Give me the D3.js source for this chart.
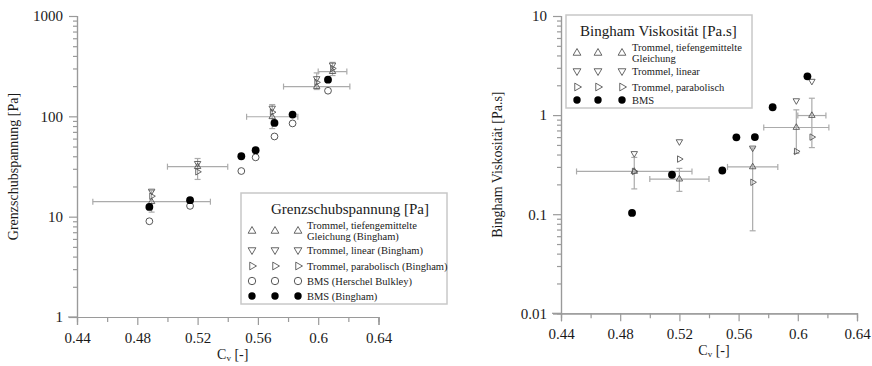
<!DOCTYPE html>
<html>
<head>
<meta charset="utf-8">
<script src="https://cdn.jsdelivr.net/npm/d3@7"></script>
<style>
  body { margin: 0; background: #fff; }
  svg { display: block; font-family: "Liberation Serif", "Times New Roman", serif; }
</style>
</head>
<body>
<div id="chart"></div>
<script>
// x axis (solids concentration)
const CV_MAJOR = [0.44, 0.48, 0.52, 0.56, 0.6, 0.64];
const CV_MINOR = [0.46, 0.50, 0.54, 0.58, 0.62];

// drum measurements (Trommel), one entry per group
const drumCv = [0.4895, 0.52, 0.5695, 0.599, 0.6095];
const drumCvErr = [0.039, 0.02, 0.017, 0.022, 0.0095];

// yield stress [Pa]
const tauUp = [14.1, 31.5, 99, 198, 279];
const tauDown = [18, 34, 121, 238, 325];
const tauRight = [16, 28, 110, 218, 300];
const tauErrLo = [11.1, 23.5, 75.5, 185, 255];
const tauErrHi = [18.2, 38, 131, 271, 345];

// Bingham viscosity [Pa.s]
const muUp = [0.27, 0.226, 0.30, 0.75, 0.99];
const muDown = [0.41, 0.54, 0.466, 1.4, 2.2];
const muRight = [0.27, 0.36, 0.21, 0.43, 0.6];
const muErrLo = [0.18, 0.17, 0.068, 0.41, 0.47];
const muErrHi = [0.374, 0.29, 0.466, 1.13, 1.48];

// BMS measurements
const bmsCv = [0.488, 0.515, 0.549, 0.5585, 0.571, 0.583, 0.6065];
const bmsTauBingham = [12.5, 14.6, 40, 46, 86, 104, 232];
const bmsTauHB = [9.0, 12.8, 28.5, 39, 63, 85, 180];
const bmsMu = [0.103, 0.25, 0.276, 0.596, 0.6, 1.2, 2.46];

const W = 872, H = 366;
const AXIS_COL = "#9a9a9a";
const BAR_COL = "#ababab";
const TRI_COL = "#555";
const SERIF = "'Liberation Serif', 'Times New Roman', serif";

const svg = d3.select("#chart").append("svg")
    .attr("width", W)
    .attr("height", H);

function logMinors(lo, hi) {
    const out = [];
    for (let dec = lo; dec < hi; dec *= 10)
        for (let k = 2; k <= 9; k++) out.push(+(dec * k).toPrecision(3));
    return out;
}

function drawTri(g, x, y, dir, size) {
    const rot = { up: 0, down: 180, right: 90 }[dir];
    g.append("path")
        .attr("d", d3.symbol(d3.symbolTriangle, size)())
        .attr("transform", `translate(${x},${y}) rotate(${rot})`)
        .attr("fill", "none")
        .attr("stroke", TRI_COL)
        .attr("stroke-width", 0.9);
}

function panel(opts) {
    const x = d3.scaleLinear().domain([0.44, 0.64]).range([opts.x0, opts.x1]);
    const y = d3.scaleLog().domain(opts.yDomain).range([opts.yBot, opts.yTop]);
    const g = svg.append("g");

    // axes
    const xAx = g.append("g").attr("transform", `translate(0,${opts.yBot})`);
    xAx.call(d3.axisBottom(x).tickValues(CV_MAJOR).tickSize(8).tickPadding(7)
        .tickFormat(d => String(d)));
    const xMin = g.append("g").attr("transform", `translate(0,${opts.yBot})`);
    xMin.call(d3.axisBottom(x).tickValues(CV_MINOR).tickSize(5).tickFormat(""));

    const yAx = g.append("g").attr("transform", `translate(${opts.x0},0)`);
    yAx.call(d3.axisLeft(y).tickValues(opts.yMajor).tickSize(8).tickPadding(6)
        .tickFormat(d => String(d)));
    const yMin = g.append("g").attr("transform", `translate(${opts.x0},0)`);
    yMin.call(d3.axisLeft(y).tickValues(logMinors(opts.yDomain[0], opts.yDomain[1]))
        .tickSize(4).tickFormat(""));

    [xAx, xMin, yAx, yMin].forEach(a => a.attr("font-family", SERIF).attr("font-size", 15));
    g.selectAll(".domain").attr("stroke", AXIS_COL).attr("stroke-width", 1.2);
    g.selectAll(".tick line").attr("stroke", AXIS_COL).attr("stroke-width", 1.2);
    g.selectAll(".tick text").attr("fill", "#1a1a1a");
    // x axis line starts a little left of the y axis
    g.append("line")
        .attr("x1", opts.x0 - 9).attr("x2", opts.x0)
        .attr("y1", opts.yBot).attr("y2", opts.yBot)
        .attr("stroke", AXIS_COL).attr("stroke-width", 1.2);

    // axis titles
    const xt = g.append("text")
        .attr("x", (opts.x0 + opts.x1) / 2 + 5)
        .attr("y", opts.yBot + 42)
        .attr("text-anchor", "middle")
        .style("font-size", "14px")
        .attr("fill", "#1a1a1a");
    xt.append("tspan").text("C");
    xt.append("tspan").attr("dy", 2).style("font-size", "9px").text("v");
    xt.append("tspan").attr("dy", -2).text(" [-]");

    g.append("text")
        .attr("transform", `translate(${opts.yTitleX},${(opts.yTop + opts.yBot) / 2}) rotate(-90)`)
        .attr("text-anchor", "middle")
        .style("font-size", "14px")
        .attr("fill", "#1a1a1a")
        .text(opts.yTitle);

    // drum error bars
    const bars = g.append("g").attr("stroke", BAR_COL).attr("stroke-width", 1.2);
    const cap = 3;
    drumCv.forEach((cv, i) => {
        const cx = x(cv), cy = y(opts.up[i]);
        const xl = x(cv - drumCvErr[i]), xr = x(cv + drumCvErr[i]);
        const yt = y(opts.errHi[i]), yb = y(opts.errLo[i]);
        bars.append("line").attr("x1", xl).attr("x2", xr).attr("y1", cy).attr("y2", cy);
        bars.append("line").attr("x1", xl).attr("x2", xl).attr("y1", cy - cap).attr("y2", cy + cap);
        bars.append("line").attr("x1", xr).attr("x2", xr).attr("y1", cy - cap).attr("y2", cy + cap);
        bars.append("line").attr("x1", cx).attr("x2", cx).attr("y1", yt).attr("y2", yb);
        bars.append("line").attr("x1", cx - cap).attr("x2", cx + cap).attr("y1", yt).attr("y2", yt);
        bars.append("line").attr("x1", cx - cap).attr("x2", cx + cap).attr("y1", yb).attr("y2", yb);
    });

    // drum triangles
    const tri = g.append("g");
    drumCv.forEach((cv, i) => {
        drawTri(tri, x(cv), y(opts.up[i]), "up", 18);
        drawTri(tri, x(cv), y(opts.down[i]), "down", 18);
        drawTri(tri, x(cv), y(opts.right[i]), "right", 18);
    });

    // BMS points
    if (opts.open) {
        g.append("g").selectAll("circle")
            .data(bmsCv.map((cv, i) => [cv, opts.open[i]]))
            .join("circle")
            .attr("cx", d => x(d[0])).attr("cy", d => y(d[1])).attr("r", 3.4)
            .attr("fill", "#fff").attr("stroke", "#444").attr("stroke-width", 0.9);
    }
    g.append("g").selectAll("circle")
        .data(bmsCv.map((cv, i) => [cv, opts.filled[i]]))
        .join("circle")
        .attr("cx", d => x(d[0])).attr("cy", d => y(d[1])).attr("r", 3.9)
        .attr("fill", "#000");

    // legend
    const L = opts.legend;
    const lg = g.append("g");
    lg.append("rect")
        .attr("x", L.x).attr("y", L.y).attr("width", L.w).attr("height", L.h)
        .attr("fill", "#fff").attr("stroke", "#c8c8c8").attr("stroke-width", 1.5);
    lg.append("text")
        .attr("x", L.titleX).attr("y", L.y + 21)
        .style("font-size", "15px").attr("fill", "#1a1a1a")
        .text(L.title);
    L.rows.forEach(r => {
        L.cols.forEach(cx => {
            if (r.kind === "filled") {
                lg.append("circle").attr("cx", cx).attr("cy", r.y).attr("r", 3.7).attr("fill", "#000");
            } else if (r.kind === "open") {
                lg.append("circle").attr("cx", cx).attr("cy", r.y).attr("r", 3.7)
                    .attr("fill", "#fff").attr("stroke", "#444").attr("stroke-width", 0.9);
            } else {
                drawTri(lg, cx, r.y, r.kind, 26);
            }
        });
        r.text.forEach((t, k) => {
            lg.append("text")
                .attr("x", L.textX)
                .attr("y", r.y + 3.5 + (k - (r.text.length - 1) / 2) * 11)
                .style("font-size", "10.5px").attr("fill", "#1a1a1a")
                .text(t);
        });
    });
}

panel({
    x0: 77, x1: 378.5, yTop: 16, yBot: 317,
    yDomain: [1, 1000], yMajor: [1, 10, 100, 1000],
    yTitle: "Grenzschubspannung [Pa]", yTitleX: 18,
    up: tauUp, down: tauDown, right: tauRight, errLo: tauErrLo, errHi: tauErrHi,
    open: bmsTauHB, filled: bmsTauBingham,
    legend: {
        x: 241, y: 193, w: 206, h: 111, titleX: 271, textX: 307,
        title: "Grenzschubspannung [Pa]",
        cols: [252, 275, 298],
        rows: [
            { kind: "up", y: 231, text: ["Trommel, tiefengemittelte", "Gleichung (Bingham)"] },
            { kind: "down", y: 250, text: ["Trommel, linear (Bingham)"] },
            { kind: "right", y: 266, text: ["Trommel, parabolisch (Bingham)"] },
            { kind: "open", y: 281, text: ["BMS (Herschel Bulkley)"] },
            { kind: "filled", y: 296, text: ["BMS (Bingham)"] }
        ]
    }
});

panel({
    x0: 561, x1: 857, yTop: 16, yBot: 313.3,
    yDomain: [0.01, 10], yMajor: [0.01, 0.1, 1, 10],
    yTitle: "Bingham Viskosität [Pa.s]", yTitleX: 502,
    up: muUp, down: muDown, right: muRight, errLo: muErrLo, errHi: muErrHi,
    open: null, filled: bmsMu,
    legend: {
        x: 566, y: 15, w: 186, h: 93, titleX: 580, textX: 632,
        title: "Bingham Viskosität [Pa.s]",
        cols: [577, 598, 622],
        rows: [
            { kind: "up", y: 53, text: ["Trommel, tiefengemittelte", "Gleichung"] },
            { kind: "down", y: 71, text: ["Trommel, linear"] },
            { kind: "right", y: 87, text: ["Trommel, parabolisch"] },
            { kind: "filled", y: 100, text: ["BMS"] }
        ]
    }
});
</script>
</body>
</html>
